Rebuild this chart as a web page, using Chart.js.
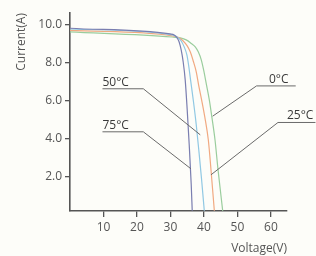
<!DOCTYPE html>
<html>
<head>
<meta charset="utf-8">
<script src="https://cdn.jsdelivr.net/npm/chart.js@4"></script>
<style>
  html, body { margin: 0; padding: 0; background: #fdfdf9; }
  #wrap { width: 316px; height: 256px; position: relative; }
</style>
</head>
<body>
<div id="wrap"><canvas id="ivChart"></canvas></div>
<script>
// I-V curves at four cell temperatures (V, A)
const temps = ['75°C', '50°C', '25°C', '0°C'];
const curve75 = [[0, 9.8], [29.9, 9.5], [31.1, 9.45], [32.0, 9.29], [32.6, 9.08], [33.2, 8.66], [33.8, 8.03],
    [34.4, 7.09], [35.0, 5.51], [35.6, 3.68], [36.2, 1.58], [36.5, 0.21]];
const curve50 = [[0, 9.76], [30.5, 9.45], [32.0, 9.34], [33.2, 9.13], [34.1, 8.82], [34.9, 8.4], [35.4, 7.88],
    [36.0, 7.09], [36.8, 6.04], [37.7, 4.73], [38.6, 3.15], [39.3, 1.84], [40.1, 0.21]];
const curve25 = [[0, 9.69], [30.5, 9.4], [32.3, 9.32], [33.8, 9.13], [35.0, 8.87], [35.9, 8.56], [36.8, 8.08],
    [37.7, 7.51], [38.4, 6.83], [39.3, 6.04], [40.4, 4.99], [41.3, 3.94], [42.1, 2.37], [43.1, 0.21]];
const curve0 = [[0, 9.61], [30.5, 9.34], [32.9, 9.29], [34.7, 9.19], [36.2, 9.0], [37.4, 8.82], [38.3, 8.56],
    [39.2, 8.14], [39.9, 7.61], [40.7, 6.88], [41.6, 6.04], [42.4, 5.09], [43.3, 3.94], [44.2, 2.37], [45.6, 0.21]];
const curveColors = ['#7a7eb0', '#90c8e3', '#f1a981', '#9acd9d'];

const xTicks = [10, 20, 30, 40, 50, 60];
const yTicks = [2, 4, 6, 8, 10];

// temperature callouts: label, where the text starts, leader line (all in V / A)
const calloutText = ['50°C', '75°C', '0°C', '25°C'];
const calloutTextAt = [[9.7, 6.62], [9.7, 4.36], [59.4, 6.77], [64.8, 4.85]];
const calloutLines = [
    [[9.7, 6.62], [21.9, 6.62], [38.9, 4.2]],
    [[9.7, 4.36], [21.9, 4.36], [36.1, 2.42]],
    [[67.4, 6.77], [55.7, 6.77], [42.6, 5.18]],
    [[73.3, 4.85], [62.1, 4.85], [42.1, 2.1]]
];

const FONT = '"Open Sans", "Noto Sans", sans-serif';

const callouts = {
    id: 'callouts',
    afterDatasetsDraw(chart) {
        const ctx = chart.ctx;
        const xs = chart.scales.x, ys = chart.scales.y;
        ctx.save();
        ctx.strokeStyle = '#6a6a6a';
        ctx.lineWidth = 1;
        calloutLines.forEach(path => {
            ctx.beginPath();
            path.forEach((p, i) => {
                const px = xs.getPixelForValue(p[0]), py = ys.getPixelForValue(p[1]);
                if (i === 0) ctx.moveTo(px, py); else ctx.lineTo(px, py);
            });
            ctx.stroke();
        });
        ctx.fillStyle = '#3a3a3a';
        ctx.font = '12px ' + FONT;
        ctx.textAlign = 'left';
        ctx.textBaseline = 'alphabetic';
        calloutText.forEach((t, i) => {
            const p = calloutTextAt[i];
            ctx.fillText(t, xs.getPixelForValue(p[0]), ys.getPixelForValue(p[1]) - 3);
        });
        ctx.restore();
    }
};

const curves = [curve75, curve50, curve25, curve0];

new Chart(document.getElementById('ivChart'), {
    type: 'line',
    data: {
        datasets: curves.map((c, i) => ({
            label: temps[i],
            data: c.map(p => ({ x: p[0], y: p[1] })),
            borderColor: curveColors[i],
            borderWidth: 1.2,
            pointRadius: 0,
            fill: false,
            cubicInterpolationMode: 'monotone'
        }))
    },
    options: {
        responsive: true,
        maintainAspectRatio: false,
        animation: false,
        layout: { padding: { top: 13, right: 29, left: 0, bottom: 0 } },
        plugins: { legend: { display: false }, tooltip: { enabled: false } },
        scales: {
            x: {
                type: 'linear',
                min: 0,
                max: 64.8,
                afterBuildTicks: s => { s.ticks = xTicks.map(v => ({ value: v })); },
                afterFit: s => { s.height = 45; },
                grid: { display: true, drawOnChartArea: false, drawTicks: true, tickLength: 6, color: '#555', lineWidth: 1.3 },
                border: { color: '#555', width: 1.6 },
                ticks: { color: '#555', padding: 3, font: { family: FONT, size: 12 } },
                title: {
                    display: true, text: 'Voltage(V)', align: 'end', color: '#555',
                    font: { family: FONT, size: 12 }, padding: { top: 0, bottom: 0 }
                }
            },
            y: {
                min: 0.2,
                max: 10.6,
                afterBuildTicks: s => { s.ticks = yTicks.map(v => ({ value: v })); },
                afterFit: s => { s.width = 70; },
                grid: { display: true, drawOnChartArea: false, drawTicks: true, tickLength: 5, color: '#555', lineWidth: 1.3 },
                border: { color: '#555', width: 1.6 },
                ticks: {
                    color: '#555', padding: 3, font: { family: FONT, size: 12 },
                    callback: v => v.toFixed(1)
                },
                title: {
                    display: true, text: 'Current(A)', align: 'end', color: '#555',
                    font: { family: FONT, size: 12 }, padding: { top: 14, bottom: 0 }
                }
            }
        }
    },
    plugins: [callouts]
});
</script>
</body>
</html>
